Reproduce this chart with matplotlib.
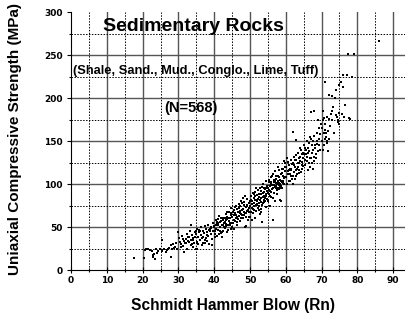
import numpy as np
import matplotlib.pyplot as plt
from matplotlib.ticker import MultipleLocator

# puntos (Rn, UCS en MPa), agrupados por tramos de Rn
tramo_17_30 = [
    (17.6, 14), (20.3, 14), (20.8, 23), (21, 24), (22.5, 22), (22.8, 17), (23, 15),
    (23.2, 19), (23.5, 13), (24, 20), (24.3, 22), (24.8, 24), (23.8, 24), (22, 23),
    (21.5, 25), (25.3, 35), (25.5, 22), (26, 25), (26.5, 21), (27, 24), (27.5, 26),
    (28, 15), (28.2, 24), (28.5, 30), (28.8, 26), (29, 27), (29.2, 31), (29.5, 25),
    (29.8, 44), (27.8, 29), (26.8, 23),
]
tramo_30_40 = [
    (30.2, 37), (30.5, 33), (30.8, 30), (31, 40), (31.2, 28), (31.5, 34), (31.7, 21),
    (32, 36), (32.2, 31), (32.5, 25), (32.8, 38), (33, 33), (33.2, 45), (33.4, 29),
    (33.6, 35), (33.8, 41), (34, 27), (34.2, 37), (34.4, 32), (34.6, 44), (34.8, 24),
    (31.3, 36), (32.3, 42), (33.5, 52), (34.1, 35), (34.5, 39), (30.6, 27), (31.8, 31),
    (33.9, 30), (34.9, 46), (32.6, 34), (33.1, 38),
    (35, 42), (35.2, 48), (35.4, 30), (35.6, 38), (35.8, 44), (36, 35), (36.2, 50),
    (36.4, 41), (36.6, 29), (36.8, 46), (37, 39), (37.2, 43), (37.4, 32), (37.6, 48),
    (37.8, 37), (38, 44), (38.2, 52), (38.4, 40), (38.6, 30), (38.8, 46), (39, 42),
    (39.2, 49), (39.4, 36), (39.6, 55), (39.8, 45), (35.3, 25), (36.1, 45), (36.9, 31),
    (37.3, 51), (38.1, 34), (38.9, 48), (39.5, 29), (35.7, 47), (37.9, 41), (39.1, 50),
    (36.5, 37), (35.1, 33), (38.5, 47), (39.9, 51), (37.5, 35),
]
tramo_40_50 = [
    (40, 50), (40.2, 45), (40.4, 58), (40.6, 52), (40.8, 40), (41, 55), (41.2, 47),
    (41.4, 63), (41.6, 50), (41.8, 43), (42, 57), (42.2, 52), (42.4, 46), (42.6, 61),
    (42.8, 55), (43, 49), (43.2, 65), (43.4, 58), (43.6, 44), (43.8, 53), (44, 60),
    (44.2, 68), (44.4, 55), (44.6, 48), (44.8, 72), (40.3, 38), (40.9, 56), (41.3, 42),
    (41.9, 60), (42.3, 39), (42.7, 50), (43.1, 56), (43.5, 62), (43.9, 47), (44.3, 52),
    (44.7, 64), (40.5, 48), (41.1, 52), (41.7, 56), (42.1, 44), (42.9, 60), (43.3, 54),
    (43.7, 67), (44.1, 57), (44.5, 61), (40.7, 54), (41.5, 46), (42.5, 58), (43.4, 51),
    (44.9, 55), (41.2, 59), (42.4, 53), (43.6, 59), (44.6, 66), (40.1, 42),
    (45, 62), (45.2, 55), (45.4, 70), (45.6, 58), (45.8, 66), (46, 75), (46.2, 60),
    (46.4, 52), (46.6, 68), (46.8, 63), (47, 72), (47.2, 57), (47.4, 80), (47.6, 65),
    (47.8, 70), (48, 61), (48.2, 76), (48.4, 68), (48.6, 50), (48.8, 73), (49, 66),
    (49.2, 83), (49.4, 70), (49.6, 78), (49.8, 62), (45.1, 50), (45.5, 64), (45.9, 57),
    (46.3, 71), (46.7, 59), (47.1, 66), (47.5, 61), (47.9, 78), (48.3, 64), (48.7, 86),
    (49.1, 74), (49.5, 58), (49.9, 80), (45.3, 67), (45.7, 73), (46.1, 64), (46.5, 62),
    (46.9, 77), (47.3, 69), (47.7, 60), (48.1, 71), (48.5, 66), (48.9, 62), (49.3, 76),
    (49.7, 72), (45.6, 48), (46.4, 56), (47.2, 74), (48, 84), (48.8, 51), (49.6, 67),
    (46.9, 67), (47.8, 64), (48.4, 79), (49.2, 69),
]
tramo_50_60 = [
    (50, 75), (50.2, 68), (50.4, 82), (50.6, 72), (50.8, 90), (51, 78), (51.2, 70),
    (51.4, 86), (51.6, 76), (51.8, 95), (52, 80), (52.2, 72), (52.4, 88), (52.6, 78),
    (52.8, 65), (53, 84), (53.2, 92), (53.4, 76), (53.6, 100), (53.8, 86), (54, 79),
    (54.2, 94), (54.4, 88), (54.6, 73), (54.8, 98), (50.1, 62), (50.5, 77), (50.9, 66),
    (51.3, 81), (51.7, 69), (52.1, 87), (52.5, 74), (52.9, 82), (53.3, 56), (53.7, 90),
    (54.1, 84), (54.5, 104), (54.9, 90), (50.3, 86), (50.7, 80), (51.1, 74), (51.5, 91),
    (51.9, 77), (52.3, 83), (52.7, 96), (53.1, 79), (53.5, 85), (53.9, 95), (54.3, 80),
    (54.7, 92), (50.6, 58), (51.4, 60), (52.2, 93), (53, 71), (53.8, 81), (54.6, 86),
    (51, 84), (52, 76), (53, 88), (54, 91), (52.6, 85), (53.4, 97), (54.8, 83),
    (50.8, 71), (51.6, 82), (52.4, 70), (53.6, 78), (54.4, 96), (51.2, 88), (53.2, 68),
    (55, 95), (55.2, 88), (55.4, 105), (55.6, 92), (55.8, 100), (56, 85), (56.2, 110),
    (56.4, 96), (56.6, 103), (56.8, 90), (57, 115), (57.2, 98), (57.4, 106), (57.6, 93),
    (57.8, 120), (58, 101), (58.2, 108), (58.4, 97), (58.6, 112), (58.8, 104), (59, 95),
    (59.2, 118), (59.6, 107), (59.8, 125), (55.1, 80), (55.5, 98), (55.9, 108),
    (56.3, 84), (56.7, 99), (57.1, 104), (57.5, 88), (57.9, 96), (58.3, 100), (58.7, 80),
    (59.1, 110), (59.5, 100), (59.9, 115), (55.3, 102), (55.7, 86), (56.1, 94),
    (56.5, 112), (56.9, 97), (57.3, 101), (57.7, 110), (58.1, 94), (58.5, 105),
    (58.9, 113), (59.3, 104), (59.7, 120), (56.4, 58), (57, 80), (57.8, 104), (58.4, 82),
    (58.8, 98), (59.4, 127), (55.6, 75), (56.8, 105), (57.6, 100), (58.2, 116), (59, 103),
    (55.2, 93), (56, 102), (57.4, 95), (58.6, 96), (59.8, 108), (55.8, 91), (57.2, 109),
    (58, 99), (59.2, 101), (56.2, 99), (57.9, 102), (58.9, 118),
]
tramo_60_70 = [
    (60, 120), (60.2, 108), (60.4, 130), (60.6, 115), (60.8, 104), (61, 122), (61.2, 112),
    (61.4, 128), (61.6, 118), (61.8, 106), (62, 125), (62.2, 114), (62.4, 132),
    (62.6, 120), (62.8, 110), (63, 128), (63.2, 118), (63.4, 136), (63.6, 124),
    (63.8, 113), (64, 132), (64.2, 140), (64.4, 126), (64.6, 118), (64.8, 136),
    (60.3, 100), (60.7, 126), (61.1, 104), (61.5, 116), (61.9, 100), (62.3, 122),
    (62.7, 128), (63.1, 112), (63.5, 120), (63.9, 142), (64.3, 114), (64.7, 130),
    (60.5, 112), (61.3, 118), (62.1, 110), (62.9, 116), (63.7, 130), (64.5, 122),
    (62, 161), (63, 151), (61.7, 123), (62.5, 106), (63.3, 124), (64.1, 127), (64.9, 121),
    (60.9, 116), (61.6, 110), (62.8, 134), (63.6, 116), (64.4, 135),
    (65, 135), (65.2, 145), (65.4, 128), (65.6, 140), (65.8, 150), (66, 132), (66.2, 142),
    (66.4, 125), (66.6, 138), (66.8, 155), (67, 130), (67.2, 145), (67.4, 136),
    (67.6, 150), (67.8, 127), (68, 156), (68.2, 142), (68.4, 135), (68.6, 160),
    (68.8, 147), (69, 139), (69.2, 165), (69.4, 152), (69.8, 170), (65.3, 122),
    (65.7, 135), (66.1, 116), (66.5, 148), (66.9, 120), (67.3, 124), (67.7, 140),
    (68.1, 145), (68.5, 130), (68.9, 175), (69.3, 145), (69.7, 158), (65.5, 142),
    (66.3, 136), (67.1, 152), (67.9, 132), (68.7, 150), (69.5, 140), (67, 184), (68, 185),
    (66.7, 130), (65.9, 127), (67.5, 118),
]
tramo_70_90 = [
    (70, 165), (70.2, 150), (70.4, 175), (70.6, 160), (70.8, 145), (71, 170), (71.2, 155),
    (71.4, 178), (71.6, 148), (71.8, 162), (72, 152), (72.5, 168), (73, 175), (73.5, 160),
    (74, 180), (74.5, 172), (75, 170), (70.3, 140), (70.7, 177), (71.1, 163), (71.5, 150),
    (72.2, 176), (72.8, 185), (73.3, 190), (74.3, 178), (74.8, 183), (71, 219), (72, 204),
    (73, 202), (74, 210), (73.8, 200), (74.6, 175), (70.5, 185), (71.3, 160), (72.6, 182),
    (70.9, 152), (71.7, 138), (75, 215),
    (75.5, 219), (76, 213), (76, 227), (77, 227), (76.5, 192), (76.2, 178), (75.8, 182),
    (78.5, 225), (77.8, 177), (78, 176), (77.5, 251), (79.2, 251), (86, 267),
]

puntos = np.array(tramo_17_30 + tramo_30_40 + tramo_40_50 + tramo_50_60
                  + tramo_60_70 + tramo_70_90)
rn = puntos[:, 0]
ucs = puntos[:, 1]

fuente_ejes = ['Liberation Sans Narrow', 'DejaVu Sans']
fuente_texto = ['Liberation Sans', 'DejaVu Sans']

fig = plt.figure(figsize=(4.06, 3.2), dpi=100)
ax = fig.add_axes([0.175, 0.156, 0.825, 0.806])

ax.set_xlim(0, 93.6)
ax.set_ylim(0, 300)

# rejilla dibujada a mano (sin linea en y=300)
for xv in range(10, 100, 10):
    ax.axvline(xv, color='#555555', lw=1.0, zorder=0)
for xv in range(5, 95, 10):
    ax.axvline(xv, color='black', lw=0.7, ls=(0, (1.5, 1.5)), zorder=0)
for yv in range(50, 300, 50):
    ax.axhline(yv, color='#555555', lw=1.0, zorder=0)
for yv in range(25, 300, 50):
    ax.axhline(yv, color='black', lw=0.7, ls=(0, (1.5, 1.5)), zorder=0)

ax.scatter(rn, ucs, s=1.4, color='black', marker='s', linewidths=0, zorder=3)

ax.spines['top'].set_visible(False)
ax.spines['right'].set_visible(False)

ax.xaxis.set_major_locator(MultipleLocator(10))
ax.xaxis.set_minor_locator(MultipleLocator(5))
ax.yaxis.set_major_locator(MultipleLocator(50))
ax.yaxis.set_minor_locator(MultipleLocator(25))
ax.tick_params(axis='x', which='major', direction='inout', length=5, width=0.8, pad=2)
ax.tick_params(axis='x', which='minor', direction='inout', length=3, width=0.8)
ax.tick_params(axis='y', which='major', direction='out', length=3, width=0.8, pad=3)
ax.tick_params(axis='y', which='minor', direction='out', length=1.5, width=0.8)
for lab in ax.get_xticklabels() + ax.get_yticklabels():
    lab.set_family(fuente_ejes)
    lab.set_fontweight('bold')
    lab.set_fontsize(6.5)

ax.text(8.9, 283, 'Sedimentary Rocks', family=fuente_texto, fontweight='bold',
        fontsize=14, va='center', ha='left')
ax.text(0.6, 231, '(Shale, Sand., Mud., Conglo., Lime, Tuff)', family=fuente_texto,
        fontweight='bold', fontsize=9.3, va='center', ha='left')
ax.text(26, 188, '(N=568)', family=fuente_texto, fontweight='bold', fontsize=10.5,
        va='center', ha='left')

fig.text(0.037, 0.565, 'Uniaxial Compressive Strength (MPa)', family=fuente_texto,
         fontweight='bold', fontsize=11, rotation=90, va='center', ha='center')
fig.text(0.575, 0.045, 'Schmidt Hammer Blow (Rn)', family=fuente_texto,
         fontweight='bold', fontsize=11.2, va='center', ha='center')

fig.savefig('out.png', dpi=100)
